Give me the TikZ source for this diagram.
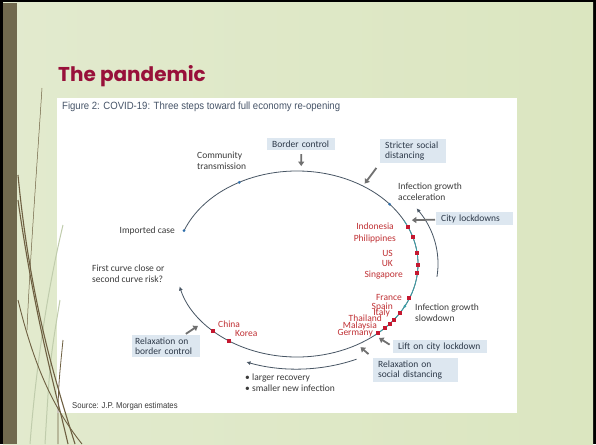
\documentclass[tikz,border=0pt]{standalone}
\usepackage{fontspec}
\setmainfont{Carlito}
\newfontfamily\headfont{Poppins}
\newfontfamily\narrowfont[FakeStretch=0.91]{Liberation Sans}
\usetikzlibrary{arrows.meta}

\definecolor{slideLeft}{RGB}{226,234,206}
\definecolor{slideMid}{RGB}{236,241,221}
\definecolor{slideRight}{RGB}{219,230,192}
\definecolor{barBrown}{RGB}{112,105,78}
\definecolor{grassBrown}{RGB}{110,96,66}
\definecolor{grassPale}{RGB}{192,204,172}
\definecolor{titleRed}{RGB}{152,16,58}
\definecolor{captionBlue}{RGB}{70,84,104}
\definecolor{boxBlue}{RGB}{221,231,240}
\definecolor{boxText}{RGB}{44,56,72}
\definecolor{labelGrey}{RGB}{58,58,58}
\definecolor{countryRed}{RGB}{192,48,52}
\definecolor{squareRed}{RGB}{196,24,48}
\definecolor{arcGrey}{RGB}{72,86,100}
\definecolor{arcTeal}{RGB}{58,160,168}
\definecolor{dotBlue}{RGB}{46,110,170}
\definecolor{arrowGrey}{RGB}{112,112,112}

\begin{document}
\begin{tikzpicture}
	[x=1pt, y=-1pt,
		containsText/.style ={font=\fontsize{9.5}{10.5}\selectfont
									},
		box/.style		={rectangle
									, containsText
									, fill=boxBlue
									, text=boxText
									, align=left
									, anchor=north west
									, inner xsep=5pt
									, inner ysep=2.5pt
									},
		remark/.style	={containsText
									, text=labelGrey
									, align=left
									, inner sep=0pt
									},
		country/.style	={containsText
									, text=countryRed
									, inner sep=0pt
									},
		push/.style		={draw=arrowGrey
									, line width=1.8pt
									, -{Triangle[length=4.5pt,width=6pt]}
									},
		line/.style		={draw=arcGrey
									, line width=0.8pt
									},
		redsq/.style	={rectangle, fill=squareRed, minimum size=4pt, inner sep=0pt},
		arcdot/.style	={circle, fill=dotBlue, minimum size=3pt, inner sep=0pt}
	]
\useasboundingbox (0,0) rectangle (596,444);
% slide
\fill[black] (0,0) rectangle (596,444);
\shade[left color=slideLeft, middle color=slideMid, right color=slideRight] (3,3) rectangle (593,444);
\fill[barBrown] (3,3) rectangle (17,444);
\fill[white] (57,98) rectangle (517,413);
% grass
\draw[grassPale, line width=1pt] (63,225) .. controls (45,300) and (35,380) .. (30,444);
\draw[grassPale, line width=1pt] (60,300) .. controls (50,360) .. (45,444);
\draw[grassBrown, line width=0.5pt] (42,88) .. controls (36,180) and (30,260) .. (27,330);
\draw[grassBrown, line width=1.1pt] (18,175) .. controls (30,300) and (55,380) .. (75,444);
\draw[grassBrown, line width=1.1pt] (18,200) .. controls (35,320) and (58,400) .. (68,444);
\draw[grassBrown, line width=0.9pt] (18,300) .. controls (35,370) and (55,410) .. (82,444);
\draw[grassBrown, line width=0.8pt] (63,340) .. controls (58,390) .. (58,444);

\node[anchor=base west, font=\headfont\bfseries\fontsize{20}{24}\selectfont, text=titleRed, inner sep=0pt] (title) at (58,81) {The pandemic};
\node[anchor=base west, font=\narrowfont\fontsize{10.5}{12}\selectfont, text=captionBlue, inner sep=0pt] (caption) at (62,109) {Figure 2: COVID-19: Three steps toward full economy re-opening};
\node[anchor=base west, font=\narrowfont\fontsize{8.5}{10}\selectfont, text=labelGrey, inner sep=0pt] (source) at (72,408) {Source: J.P. Morgan estimates};

% the cycle
\draw[line, -{Latex[length=4pt,width=4pt]}] ({297+121*cos(-159)},{264+93*sin(-159)}) arc[start angle=-159, end angle=166, x radius=121, y radius=93];
\draw[line, draw=arcTeal] ({297+121*cos(-28)},{264+93*sin(-28)}) arc[start angle=-28, end angle=50, x radius=121, y radius=93];
\draw[line, {Latex[length=4pt,width=4pt]}-] ({297+141*cos(-32)},{264+105*sin(-32)}) arc[start angle=-32, end angle=7, x radius=141, y radius=105];
\draw[line, -{Latex[length=4pt,width=4pt]}] ({297+141*cos(65)},{264+105*sin(65)}) arc[start angle=65, end angle=111, x radius=141, y radius=105];

\foreach \t [count=\i] in {-159,-118.5,-40}
	\node[arcdot] (dot\i) at ({297+121*cos(\t)},{264+93*sin(\t)}) {};
\node[arcdot, fill=arcTeal] (dotSlow) at ({297+121*cos(27)},{264+93*sin(27)}) {};
\foreach \t [count=\i] in {-23.6,-17,-6.8,0.6,5.5,21.7,32,36.7,39.8,43.3,47.9,124,134}
	\node[redsq] (sq\i) at ({297+121*cos(\t)},{264+93*sin(\t)}) {};

\coordinate (cBorder)	at ({297+121*cos(-88)},{264+93*sin(-88)});
\coordinate (cStricter)	at ({297+121*cos(-57)},{264+93*sin(-57)});
\coordinate (cCity)		at ({297+121*cos(-28)},{264+93*sin(-28)});
\coordinate (cLift)		at ({297+121*cos(50)},{264+93*sin(50)});
\coordinate (cSocial)	at ({297+121*cos(60)},{264+93*sin(60)});
\coordinate (cRelax)	at ({297+121*cos(141)},{264+93*sin(141)});

% boxes
\node[box, text width=58pt] (border)		at (267,138) {Border control};
\node[box, text width=56pt] (stricter)		at (380,139) {Stricter social\\distancing};
\node[box, text width=67pt] (city)			at (436,212) {City lockdowns};
\node[box, text width=84pt] (lift)			at (393,340) {Lift on city lockdown};
\node[box, text width=75pt] (relaxSocial)	at (373,358) {Relaxation on\\social distancing};
\node[box, text width=62pt, inner xsep=3pt] (relaxBorder)	at (132,335) {Relaxation on\\border control};

% labels
\node[remark, anchor=north west] (community)	at (197,152) {Community\\transmission};
\node[remark, anchor=base east] (imported)		at (175,233) {Imported case};
\node[remark, anchor=north west] (accel)		at (398,183) {Infection growth\\acceleration};
\node[remark, anchor=north west] (slowdown)		at (415,304) {Infection growth\\slowdown};
\node[remark, anchor=north west] (firstCurve)	at (92,265) {First curve close or\\second curve risk?};
\node[remark, anchor=north west] (recovery)		at (245,374) {\textbullet\ larger recovery\\\textbullet\ smaller new infection};

\foreach \name/\x/\y in {Indonesia/394/229, Philippines/396/241, US/393/256, UK/393/266, Singapore/403/277,
		France/402/300, Spain/393/309, Italy/390/315, Thailand/382/321, Malaysia/377/328, Germany/373/335}
	\node[country, anchor=base east] (\name) at (\x,\y) {\name};
\node[country, anchor=base west] (China) at (218,327) {China};
\node[country, anchor=base west] (Korea) at (235,336) {Korea};

% arrows
\draw[push, shorten <=4pt, shorten >=5pt]	(border) -- (cBorder);
\draw[push, shorten <=6pt, shorten >=3pt]	(stricter.south west) -- (cStricter);
\draw[push, shorten <=1pt, shorten >=8pt]	(city) -- (cCity);
\draw[push, shorten <=4pt, shorten >=5pt]	(lift.west) -- (cLift);
\draw[push, shorten <=6pt, shorten >=4pt]	(relaxSocial.north west) -- (cSocial);
\draw[push, shorten <=2pt, shorten >=6pt]	([xshift=18pt]relaxBorder.north) -- (cRelax);
\end{tikzpicture}
\end{document}
